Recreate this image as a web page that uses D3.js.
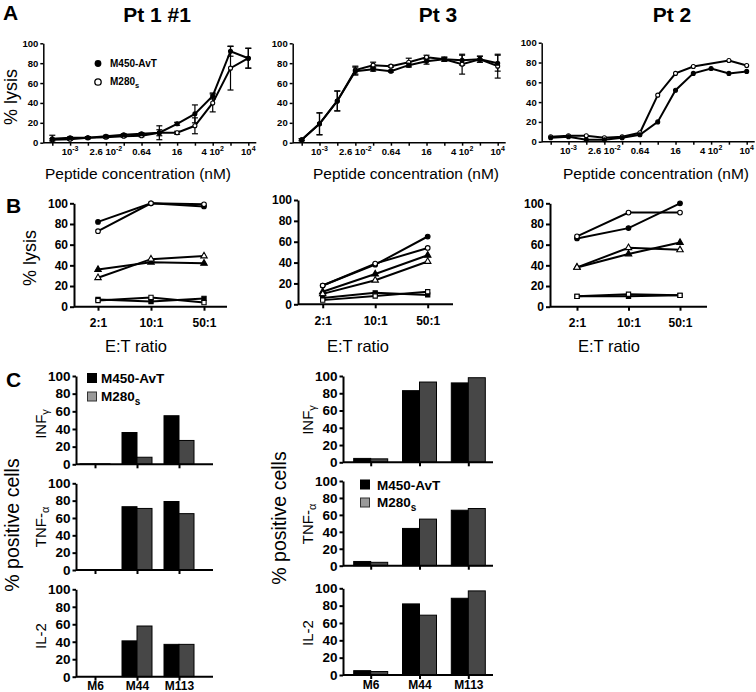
<!DOCTYPE html>
<html><head><meta charset="utf-8">
<script src="https://cdn.jsdelivr.net/npm/d3@7"></script>
<style>
body{margin:0;background:#fff;}
svg{display:block;font-family:Arial,"Liberation Sans",Helvetica,sans-serif;}
</style></head><body>
<svg id="c" width="756" height="692"></svg>
<script>
// ---------- DATA ----------
const conc = [0.0002,0.001,0.005,0.0256,0.128,0.64,3.2,16,80,400,2000,10000];
const concTickValues = [0.001,0.0256,0.64,16,400,10000];
const concTickBase = ["10","2.6 10","0.64","16","4 10","10"];
const concTickSup = ["-3","-2","","","2","4"];
const pctTicks = [0,20,40,60,80,100];

const pt1Avt    = [4,5,5,6.5,8,9,10,19,29,47,92,85];
const pt1AvtErr = [3.5,1,1,1,1,1,7,1.5,9,3,5,10];
const pt1M280   = [3,3.5,5,5.5,6.5,7,10,10,17,40,75,85];
const pt1M280Err= [1,1,1,1,1,1,3,1.5,8,9,22,10];

const pt3Avt    = [3,19,42,72,74,72,78,82,84,83,84,80];
const pt3AvtErr = [1,11,10,4,2,1,2,3,2,5,3,8];
const pt3M280   = [3,19,42,73,78,77,81,86,84,79,84,77];
const pt3M280Err= [1,11,10,4,3,1,4,2,2,10,3,12];

const pt2Avt    = [4,5,2,2,4,7,20,52,69,74,69,71];
const pt2M280   = [5,6,6,4,5,9,47,69,76,null,82,77];

const etRatios = ["2:1","10:1","50:1"];
const bPt1 = {fc:[82,100,97], oc:[73,100,99], ft:[36,43,42], ot:[28,46,49], fs:[7,5,8], os:[6,9,4]};
const bPt3 = {fc:[18,38,65], oc:[18,39,54], ft:[12,29,47], ot:[10,23,41], fs:[6,11,9], os:[4,8,12]};
const bPt2 = {fc:[66,76,100], oc:[68,91,91], ft:[38,51,62], ot:[38,57,55], fs:[10,10,11], os:[10,12,11]};

const cytoCats = ["M6","M44","M113"];
const leftInfAvt = [0.5,36,55],  leftInfM280 = [0.5,8,27];
const leftTnfAvt = [0.5,73,79],  leftTnfM280 = [0.5,71,65];
const leftIl2Avt = [0,41,37],    leftIl2M280 = [0,58,37];
const rightInfAvt = [4.5,83,92], rightInfM280 = [4,93,98];
const rightTnfAvt = [5,44,65.5], rightTnfM280 = [4,55,67.5];
const rightIl2Avt = [5,82,88.5], rightIl2M280 = [4,69,97];

// ---------- HELPERS ----------
const svg = d3.select("#c");
svg.append("rect").attr("width",756).attr("height",692).attr("fill","#fff");

function styleAxis(g, fs, sw){
  g.attr("font-family",null).attr("font-size",fs).attr("font-weight","bold");
  g.selectAll("path.domain, .tick line").attr("stroke","#000").attr("stroke-width",sw);
  g.selectAll("text").attr("fill","#000");
}
function rotText(x, y, fs, parts){
  const t = svg.append("text").attr("transform",`translate(${x},${y}) rotate(-90)`)
    .attr("text-anchor","middle").attr("font-size",fs);
  parts.forEach(p=>{
    const s = t.append("tspan").text(p.t);
    if(p.dy) s.attr("dy",p.dy);
    if(p.fs) s.attr("font-size",p.fs);
  });
  return t;
}
function plainText(x,y,fs,txt,weight,anchor){
  return svg.append("text").attr("x",x).attr("y",y).attr("font-size",fs)
    .attr("font-weight",weight||"normal").attr("text-anchor",anchor||"middle").text(txt);
}

// ---------- PANEL A ----------
function panelA(o){
  const g = svg.append("g");
  const x = d3.scaleLog().domain([conc[0], conc[conc.length-1]]).range([o.x0+9, o.x0+205]);
  const y = d3.scaleLinear().domain([0,100]).range([o.yBot, o.yTop]);
  g.append("g").attr("transform",`translate(${o.x0},0)`)
    .call(d3.axisLeft(y).tickValues(pctTicks).tickSize(3).tickSizeOuter(0).tickPadding(2))
    .call(styleAxis, 9.5, 1.5);
  const xa = g.append("g").attr("transform",`translate(0,${o.yBot})`)
    .call(d3.axisBottom(x).tickValues(conc).tickSize(3).tickFormat(""));
  xa.select(".domain").remove();
  xa.selectAll(".tick line").attr("stroke","#000").attr("stroke-width",1.5);
  g.append("line").attr("x1",o.x0).attr("x2",o.x0+213).attr("y1",o.yBot).attr("y2",o.yBot)
    .attr("stroke","#000").attr("stroke-width",1.5);
  concTickValues.forEach((v,i)=>{
    const t = g.append("text").attr("x",x(v)).attr("y",o.yBot+12.5).attr("text-anchor","middle")
      .attr("font-size",9.5).attr("font-weight","bold");
    t.append("tspan").text(concTickBase[i]);
    if(concTickSup[i]) t.append("tspan").attr("dy",-4).attr("font-size",7).text(concTickSup[i]);
  });
  const sers = [
    {v:o.m280, e:o.m280Err, filled:false},
    {v:o.avt, e:o.avtErr, filled:true}
  ];
  const line = d3.line().x(d=>x(d.c)).y(d=>y(d.v));
  sers.forEach(s=>{
    const pts = conc.map((c,i)=>({c, v:s.v[i], e:s.e?s.e[i]:0})).filter(d=>d.v!==null);
    s.pts = pts;
    g.append("path").attr("d",line(pts)).attr("fill","none").attr("stroke","#000").attr("stroke-width",2);
  });
  sers.forEach(s=>{
    s.pts.filter(d=>d.e>0).forEach(d=>{
      const cx = x(d.c), y1 = y(d.v+d.e), y2 = y(Math.max(0,d.v-d.e));
      g.append("line").attr("x1",cx).attr("x2",cx).attr("y1",y1).attr("y2",y2).attr("stroke","#000").attr("stroke-width",1.2);
      [y1,y2].forEach(yy=>g.append("line").attr("x1",cx-3).attr("x2",cx+3).attr("y1",yy).attr("y2",yy).attr("stroke","#000").attr("stroke-width",1.2));
    });
  });
  sers.forEach(s=>{
    g.selectAll(null).data(s.pts).join("circle").attr("cx",d=>x(d.c)).attr("cy",d=>y(d.v)).attr("r",2)
      .attr("fill",s.filled?"#000":"#fff").attr("stroke","#000").attr("stroke-width",1.1);
  });
  plainText(o.titleX, 22, 21, o.title, "bold");
  plainText(o.labX, 179, 15.5, "Peptide concentration (nM)");
}

panelA({x0:43.3, yTop:43.3, yBot:142.7, avt:pt1Avt, avtErr:pt1AvtErr, m280:pt1M280, m280Err:pt1M280Err, title:"Pt 1 #1", titleX:157, labX:138});
panelA({x0:292.7, yTop:43.3, yBot:142.7, avt:pt3Avt, avtErr:pt3AvtErr, m280:pt3M280, m280Err:pt3M280Err, title:"Pt 3", titleX:438, labX:406});
panelA({x0:541.7, yTop:42.7, yBot:141.7, avt:pt2Avt, avtErr:null, m280:pt2M280, m280Err:null, title:"Pt 2", titleX:672, labX:656});

// legend A
svg.append("circle").attr("cx",98).attr("cy",63.5).attr("r",3.4).attr("fill","#000");
plainText(110,67,10,"M450-AvT","bold","start");
svg.append("circle").attr("cx",98).attr("cy",82).attr("r",3.2).attr("fill","#fff").attr("stroke","#000").attr("stroke-width",1.3);
{const t = plainText(110,85,10,"M280","bold","start"); t.append("tspan").attr("dy",3).attr("font-size",7.5).text("s");}

rotText(16.5, 97, 18, [{t:"% lysis"}]);
plainText(3, 20, 21, "A", "bold", "start");

// ---------- PANEL B ----------
const bSeries = [
  {k:"fc", sym:d3.symbolCircle, size:17, filled:true},
  {k:"oc", sym:d3.symbolCircle, size:17, filled:false},
  {k:"ft", sym:d3.symbolTriangle, size:18, filled:true},
  {k:"ot", sym:d3.symbolTriangle, size:18, filled:false},
  {k:"fs", sym:d3.symbolSquare, size:18, filled:true},
  {k:"os", sym:d3.symbolSquare, size:18, filled:false}
];
function panelB(o){
  const g = svg.append("g");
  const x = d3.scalePoint().domain(etRatios).range([o.c0, o.c1]);
  const y = d3.scaleLinear().domain([0,100]).range([o.yBot, o.yTop]);
  g.append("g").attr("transform",`translate(${o.x0},0)`)
    .call(d3.axisLeft(y).tickValues(pctTicks).tickSize(4).tickSizeOuter(0).tickPadding(2))
    .call(styleAxis, 12, 2);
  const xa = g.append("g").attr("transform",`translate(0,${o.yBot})`)
    .call(d3.axisBottom(x).tickSize(4).tickPadding(8));
  xa.select(".domain").remove();
  styleAxis(xa, 12, 2);
  g.append("line").attr("x1",o.x0).attr("x2",o.x1).attr("y1",o.yBot).attr("y2",o.yBot)
    .attr("stroke","#000").attr("stroke-width",2);
  const line = d3.line().x((d,i)=>x(etRatios[i])).y(d=>y(d));
  bSeries.forEach(s=>{
    g.append("path").attr("d",line(o.d[s.k])).attr("fill","none").attr("stroke","#000").attr("stroke-width",2);
  });
  bSeries.forEach(s=>{
    g.selectAll(null).data(o.d[s.k]).join("path")
      .attr("transform",(d,i)=>`translate(${x(etRatios[i])},${y(d)})`)
      .attr("d",d3.symbol().type(s.sym).size(s.size))
      .attr("fill",s.filled?"#000":"#fff").attr("stroke","#000").attr("stroke-width",1.1);
  });
  plainText(o.labX, 352, 16.5, "E:T ratio");
}
panelB({x0:74, x1:227, c0:98, c1:204, yTop:203.3, yBot:306.7, d:bPt1, labX:136});
panelB({x0:298, x1:453, c0:322.7, c1:427.7, yTop:200, yBot:304.3, d:bPt3, labX:358});
panelB({x0:550, x1:707, c0:577, c1:680, yTop:203.3, yBot:306.7, d:bPt2, labX:609});
rotText(36, 258, 18, [{t:"% lysis"}]);
plainText(6, 213, 21, "B", "bold", "start");

// ---------- PANEL C ----------
const grayBar = "#474747";
function panelC(o){
  const g = svg.append("g");
  const x = d3.scalePoint().domain(cytoCats).range([o.c0, o.c1]);
  o.subs.forEach((s,si)=>{
    const y = d3.scaleLinear().domain([0,100]).range([s.yBot, s.yTop]);
    g.append("g").attr("transform",`translate(${o.x0},0)`)
      .call(d3.axisLeft(y).tickValues(pctTicks).tickSize(3.5).tickSizeOuter(0).tickPadding(2))
      .call(styleAxis, 13.5, 2);
    cytoCats.forEach((c,i)=>{
      g.append("rect").attr("x",x(c)-o.bw).attr("width",o.bw)
        .attr("y",y(s.avt[i])).attr("height",y(0)-y(s.avt[i]))
        .attr("fill","#000").attr("stroke","#000").attr("stroke-width",1);
      g.append("rect").attr("x",x(c)).attr("width",o.bw)
        .attr("y",y(s.m280[i])).attr("height",y(0)-y(s.m280[i]))
        .attr("fill",grayBar).attr("stroke","#000").attr("stroke-width",1);
    });
    const xa = g.append("g").attr("transform",`translate(0,${s.yBot})`)
      .call(d3.axisBottom(x).tickSize(4).tickFormat(si===2?null:""));
    xa.select(".domain").remove();
    styleAxis(xa, 12, 2);
    xa.selectAll("text").attr("y",null).attr("dy",null).attr("y",13.5);
    g.append("line").attr("x1",o.x0).attr("x2",o.x1).attr("y1",s.yBot).attr("y2",s.yBot)
      .attr("stroke","#000").attr("stroke-width",2);
  });
  const lx = o.x0 - 30;
  rotText(lx, o.labY[0], 15, [{t:"INF"},{t:"γ",fs:11,dy:3}]);
  rotText(lx, o.labY[1], 15, [{t:"TNF-"},{t:"α",fs:11,dy:3}]);
  rotText(lx, o.labY[2], 15, [{t:"IL-2"}]);
  rotText(o.x0 - 57, o.posY, 19.5, [{t:"% positive cells"}]);
  // legend
  const L = o.legend;
  svg.append("rect").attr("x",L.x).attr("y",L.y1).attr("width",10).attr("height",10).attr("fill","#000");
  plainText(L.tx, L.y1+10, 13.5, "M450-AvT", "bold", "start");
  svg.append("rect").attr("x",L.x+0.5).attr("y",L.y2+0.5).attr("width",9).attr("height",9).attr("fill","#9a9a9a").attr("stroke","#333").attr("stroke-width",1);
  const t = plainText(L.tx, L.y2+9, 13.5, "M280", "bold", "start");
  t.append("tspan").attr("dy",4).attr("font-size",10).text("s");
}
panelC({x0:76, x1:213, c0:95, c1:179, bw:15,
  subs:[{yTop:376, yBot:464.3, avt:leftInfAvt, m280:leftInfM280},
        {yTop:483.3, yBot:570, avt:leftTnfAvt, m280:leftTnfM280},
        {yTop:589.3, yBot:676.7, avt:leftIl2Avt, m280:leftIl2M280}],
  labY:[424,527,636], posY:525, legend:{x:87, y1:373, y2:391.5, tx:101}});
panelC({x0:343, x1:493, c0:370.7, c1:468.3, bw:17,
  subs:[{yTop:376, yBot:462.3, avt:rightInfAvt, m280:rightInfM280},
        {yTop:481, yBot:565.7, avt:rightTnfAvt, m280:rightTnfM280},
        {yTop:588.3, yBot:675, avt:rightIl2Avt, m280:rightIl2M280}],
  labY:[420,524,633], posY:518, legend:{x:360, y1:479.5, y2:497.5, tx:377}});
plainText(6, 387, 21, "C", "bold", "start");
</script>
</body></html>
